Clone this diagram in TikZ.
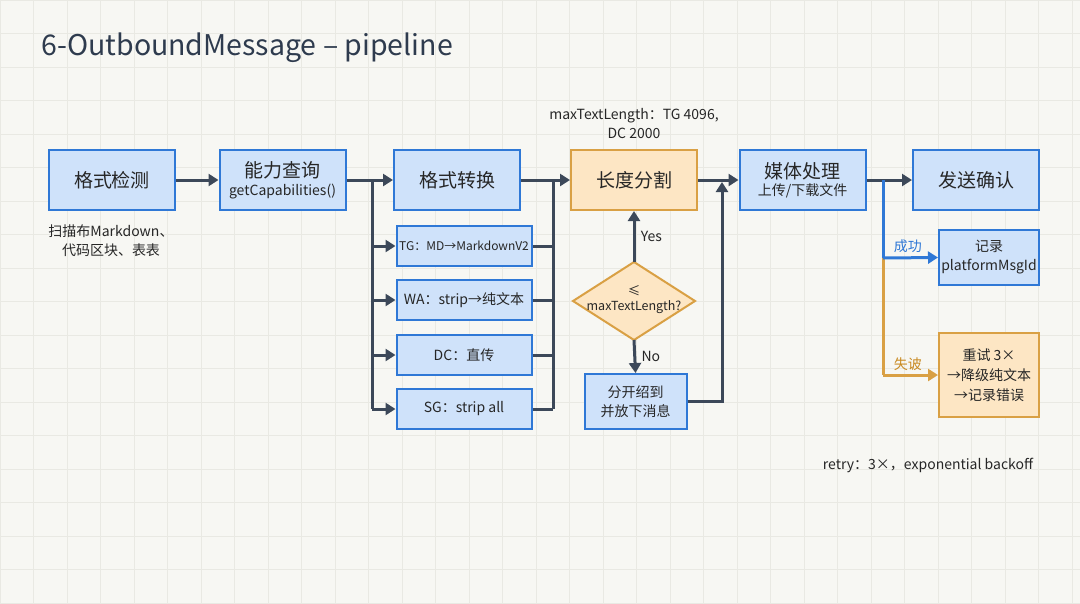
\documentclass[tikz,border=0pt]{standalone}
\usepackage{fontspec}
\setmainfont{Noto Sans CJK SC}
\usetikzlibrary{shapes.geometric,arrows.meta}
\definecolor{bg}{HTML}{F7F7F3}
\definecolor{gridc}{HTML}{E9E9E3}
\definecolor{ink}{HTML}{3C4859}
\definecolor{titlec}{HTML}{2E3B4E}
\definecolor{bfill}{HTML}{CFE2FA}
\definecolor{bline}{HTML}{2F78D6}
\definecolor{ofill}{HTML}{FDE6C4}
\definecolor{oline}{HTML}{D9A044}
\definecolor{otext}{HTML}{C98A22}
\tikzset{
  bluebox/.style={draw=bline,fill=bfill,line width=2pt,minimum width=126pt,minimum height=60pt,align=center,inner sep=2pt,text=black!85},
  orbox/.style={draw=oline,fill=ofill,line width=2pt,align=center,inner sep=2pt,text=black!85},
  subbox/.style={draw=bline,fill=bfill,line width=2pt,minimum width=135pt,minimum height=40pt,align=center,inner sep=2pt,text=black!85},
  conn/.style={draw=ink,line width=3pt},
  arr/.style={conn,-{Triangle[length=10pt,width=12pt]}},
  big/.style={font=\fontsize{19}{22}\selectfont},
  mid/.style={font=\fontsize{14}{19}\selectfont},
  small/.style={font=\fontsize{12}{15}\selectfont},
}
\begin{document}
\begin{tikzpicture}[x=1pt,y=-1pt]
\fill[bg] (0,0) rectangle (1080,603);
\useasboundingbox (0,0) rectangle (1080,603);
\foreach \i in {0,...,32} \draw[gridc,line width=1pt] (\i*33.5,0) -- (\i*33.5,603);
\foreach \j in {0,...,18} \draw[gridc,line width=1pt] (0,\j*33.5) -- (1080,\j*33.5);

\node[anchor=west,text=titlec,font=\fontsize{28.5}{32}\selectfont] (title) at (38,48) {6-OutboundMessage – pipeline};

% main row
\node[bluebox,big] (detect) at (112,180) {格式检测};
\node[bluebox] (cap) at (282.5,180) {\fontsize{19}{22}\selectfont 能力查询\\[4pt]\fontsize{14}{16}\selectfont getCapabilities()};
\node[bluebox,big] (conv) at (457,180) {格式转换};
\node[orbox,big,minimum width=126pt,minimum height=60pt] (split) at (634,180) {长度分割};
\node[bluebox] (media) at (802.5,180) {\fontsize{19}{22}\selectfont 媒体处理\\[3pt]\fontsize{14}{16}\selectfont 上传/下载文件};
\node[bluebox,big] (send) at (976,180) {发送确认};

\node[mid,align=center,text=black!85] (scan) at (111,241) {扫描布Markdown、\\代码区块、表表};
\node[mid,align=center,text=black!85] (maxnote) at (634,124) {maxTextLength：TG 4096,\\DC 2000};

% sub boxes
\node[subbox,small] (tg) at (464,246) {TG：MD→MarkdownV2};
\node[subbox,mid] (wa) at (464,300) {WA：strip→纯文本};
\node[subbox,mid] (dc) at (464,355) {DC：直传};
\node[subbox,mid] (sg) at (464,409) {SG：strip all};

% diamond
\coordinate (dtop) at (634,262);
\coordinate (dbot) at (634,340);
\draw[draw=oline,fill=ofill,line width=2pt,line join=miter] (dtop) -- (695,301) -- (dbot) -- (573,301) -- cycle;
\node[align=center,font=\fontsize{12.5}{15}\selectfont,text=black!85] (dec) at (634,300) {≤\\maxTextLength?};
\node[bluebox,mid,minimum width=102pt,minimum height=55pt] (chunk) at (635.5,401.5) {分开绍到\\并放下消息};

% right branch boxes
\node[bluebox,mid,minimum width=100pt,minimum height=55pt] (rec) at (989,257.5) {记录\\platformMsgId};
\node[orbox,mid,minimum width=100pt,minimum height=84pt] (retry) at (989,375) {重试 3×\\[1pt]→降级纯文本\\[1pt]→记录错误};
\node[mid,text=black!85] (retrynote) at (928,465) {retry：3×，exponential backoff};

% connectors
\draw[arr] (detect) -- (cap);
\draw[arr] (cap) -- (conv);
\coordinate (lb) at (372,180);
\draw[conn] (lb) -- (372,409);
\draw[arr] (372,246) -- (tg.west);
\draw[arr] (372,300) -- (wa.west);
\draw[arr] (372,355) -- (dc.west);
\draw[arr] (372,409) -- (sg.west);
\draw[arr] (conv) -- (split);
\draw[conn] (553,180) -- (553,409);
\draw[conn] (tg.east) -- (553,246);
\draw[conn] (wa.east) -- (553,300);
\draw[conn] (dc.east) -- (553,355);
\draw[conn] (sg.east) -- (553,409);

\draw[arr] (dtop) -- node[right=2pt,mid,text=black!85] {Yes} (split.south);
\draw[arr] (dbot) -- node[right=2pt,mid,text=black!85] {No} (chunk.north);
\draw[arr] (split) -- (media);
\coordinate (up) at (722,182);
\draw[arr] (chunk.east) -| (up);
\draw[arr] (media) -- (send);

\coordinate (br) at (883,180);
\coordinate (bm) at (883,258);
\coordinate (bo) at (883,375);
\draw[bline,line width=3pt] (br) -- (bm);
\draw[oline,line width=3pt] (bm) -- (bo);
\draw[bline,line width=3pt,-{Triangle[length=10pt,width=12pt]}] (bm) -- node[above,pos=0.45,mid,text=bline] {成功} (rec.west);
\draw[oline,line width=3pt,-{Triangle[length=10pt,width=12pt]}] (bo) -- node[above,pos=0.45,mid,text=otext] {失诐} (retry.west);
\end{tikzpicture}
\end{document}
